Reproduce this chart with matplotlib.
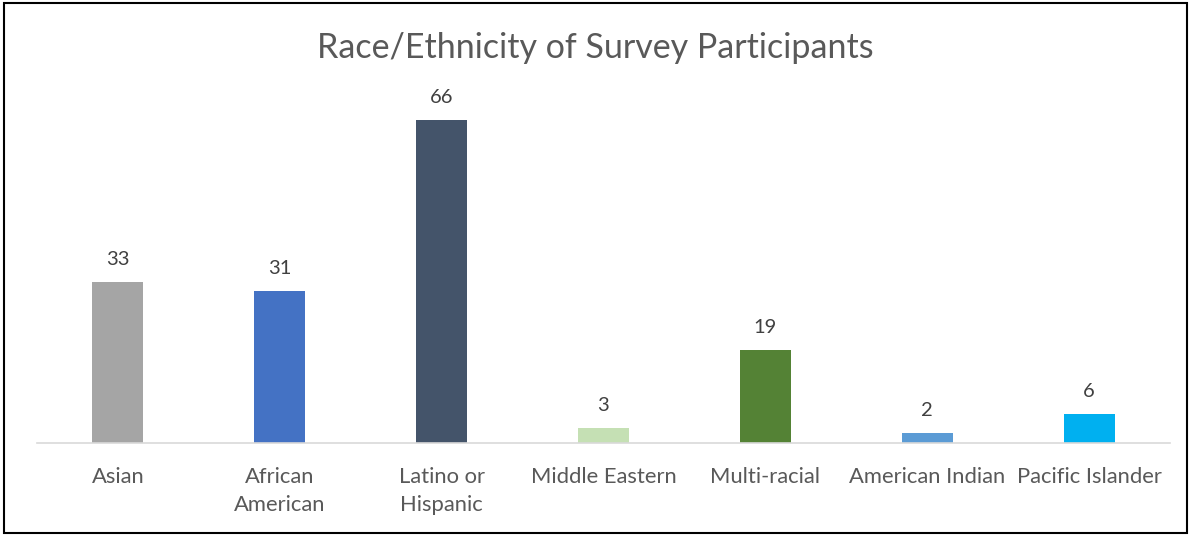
import matplotlib
matplotlib.use("Agg")
import matplotlib.pyplot as plt
from matplotlib.patches import Rectangle

categories = ["Asian", "African\nAmerican", "Latino or\nHispanic", "Middle Eastern",
              "Multi-racial", "American Indian", "Pacific Islander"]
counts = [33, 31, 66, 3, 19, 2, 6]
colors = ["#A5A5A5", "#4472C4", "#44546A", "#C5E0B4", "#548235", "#5B9BD5", "#00B0F0"]

plt.rcParams["font.family"] = ["Lato", "DejaVu Sans"]
W, H = 1191, 535
fig = plt.figure(figsize=(W / 100, H / 100), dpi=100)

# plot area: baseline at y=443 px, spans x 37..1170 px
x0, x1, y_base = 37, 1170, 443
ymax = 70
px_per_unit = 323 / 66
top = y_base - ymax * px_per_unit
ax = fig.add_axes([x0 / W, 1 - y_base / H, (x1 - x0) / W, (y_base - top) / H])

xs = range(len(categories))
ax.bar(xs, counts, width=0.315, color=colors, zorder=2)
for x, v in zip(xs, counts):
    ax.annotate(str(v), (x, v), xytext=(0, 10), textcoords="offset points",
                ha="center", va="bottom", fontsize=14.5, color="#404040")

ax.set_xlim(-0.5, len(categories) - 0.5)
ax.set_ylim(0, ymax)
ax.set_yticks([])
ax.set_xticks(list(xs))
ax.set_xticklabels(categories, fontsize=15.8, color="#595959", linespacing=1.5)
ax.tick_params(axis="x", length=0, pad=17)
for side in ("top", "right", "left"):
    ax.spines[side].set_visible(False)
ax.spines["bottom"].set_color("#D9D9D9")
ax.spines["bottom"].set_linewidth(1.2)

fig.text(0.5, 1 - 48 / H, "Race/Ethnicity of Survey Participants",
         ha="center", va="center", fontsize=24.5, color="#595959")

# outer frame
fig.patches.append(Rectangle((4 / W, 2 / H), (W - 8) / W, (H - 5) / H,
                             transform=fig.transFigure, fill=False,
                             edgecolor="#000000", linewidth=1.5))

fig.savefig("out.png", dpi=100)
